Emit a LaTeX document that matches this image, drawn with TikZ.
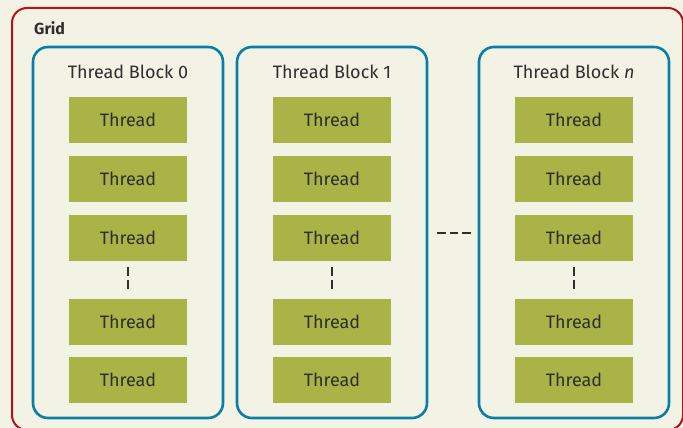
\documentclass[tikz,border=0pt]{standalone}
\usepackage{fontspec}
\setmainfont{Fira Sans}
\begin{document}
\begin{tikzpicture}[x=1pt,y=-1pt,
  gridframe/.style={draw=gridred,line width=2pt,rounded corners=15pt},
  blockframe/.style={draw=blockblue,line width=2.6pt,rounded corners=15pt},
  threadbox/.style={fill=threadgreen,minimum width=118pt,minimum height=46pt,
    inner sep=0pt,text=textdark,font=\fontsize{18}{20}\selectfont},
  blocktitle/.style={text=textdark,font=\fontsize{18}{20}\selectfont,inner sep=0pt},
  ellipsis/.style={draw=textdark,line width=2.6pt,dash pattern=on 9pt off 4pt}
]
\definecolor{bgcream}{HTML}{F2F2E5}
\definecolor{gridred}{HTML}{B5121B}
\definecolor{blockblue}{HTML}{0B7EA8}
\definecolor{threadgreen}{HTML}{A9B346}
\definecolor{textdark}{HTML}{2E2E2E}
\useasboundingbox (0,0) rectangle (683,428);
\fill[bgcream] (0,0) rectangle (683,428);
\begin{scope}
\clip (0,0) rectangle (683,428);
\draw[gridframe] (12,8) rectangle (683,430);
\end{scope}
\node[anchor=west,text=textdark,font=\bfseries\fontsize{16}{18}\selectfont,inner sep=0pt] (gridlabel) at (34,28) {Grid};

% thread blocks
\foreach \bx/\name/\lbl in {33/b0/{Thread Block 0},237/b1/{Thread Block 1},479/bn/{Thread Block \textit{n}}}{
  \draw[blockframe] (\bx,47) rectangle ++(190,371);
  \node[blocktitle] (\name title) at (\bx+95,72) {\lbl};
  \foreach \ty/\k in {120/1,179/2,238/3,322/4,380/5}{
    \node[threadbox] (\name t\k) at (\bx+95,\ty) {Thread};
  }
  \coordinate (\name dtop) at (\bx+95,267);
  \coordinate (\name dbot) at (\bx+95,289);
  \draw[ellipsis] (\name dtop) -- (\name dbot);
}
\coordinate (hdl) at (437,233);
\coordinate (hdr) at (471,233);
\draw[ellipsis,dash pattern=on 8.5pt off 4.2pt] (hdl) -- (hdr);
\end{tikzpicture}
\end{document}
